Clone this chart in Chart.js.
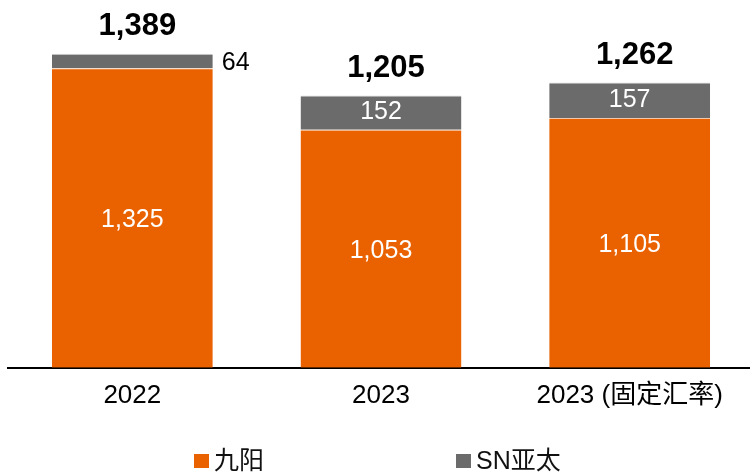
<!DOCTYPE html>
<html><head><meta charset="utf-8">
<script src="https://cdn.jsdelivr.net/npm/chart.js@4.4.1/dist/chart.umd.min.js"></script>
<style>html,body{margin:0;padding:0;background:#fff;overflow:hidden}#wrap{width:750px;height:472px;overflow:hidden}</style>
</head><body><div id="wrap"><canvas id="c" width="756" height="472"></canvas></div>
<script>
const categories = ['2022', '2023', '2023 (固定汇率)'];
const joyoung = [1325, 1053, 1105];
const snAsia = [64, 152, 157];
const seriesNames = ['九阳', 'SN亚太'];
const seriesColors = ['#EA6100', '#6B6B6B'];
const FONT = '"Liberation Sans",Arial,"Noto Sans CJK SC",sans-serif';
const fmt = v => v.toLocaleString('en-US');

const labelPlugin = {
  id: 'labels',
  afterDatasetsDraw(chart) {
    const ctx = chart.ctx;
    const m0 = chart.getDatasetMeta(0), m1 = chart.getDatasetMeta(1);
    ctx.save();
    ctx.textBaseline = 'middle';
    m0.data.forEach((bar, i) => {
      ctx.fillStyle = '#fff';
      ctx.font = '25px ' + FONT;
      ctx.textAlign = 'center';
      ctx.fillText(fmt(joyoung[i]), bar.x, (bar.y + bar.base) / 2 + 2);
    });
    m1.data.forEach((bar, i) => {
      const h = bar.base - bar.y;
      ctx.font = '25px ' + FONT;
      if (h < 25) {
        ctx.fillStyle = '#000';
        ctx.textAlign = 'left';
        ctx.fillText(fmt(snAsia[i]), bar.x + bar.width / 2 + 9, (bar.y + bar.base) / 2 + 2);
      } else {
        ctx.fillStyle = '#fff';
        ctx.textAlign = 'center';
        ctx.fillText(fmt(snAsia[i]), bar.x, (bar.y + bar.base) / 2);
      }
      ctx.fillStyle = '#000';
      ctx.textAlign = 'center';
      ctx.font = 'bold 31px ' + FONT;
      ctx.fillText(fmt(joyoung[i] + snAsia[i]), bar.x + 5, bar.y - 27);
    });
    // legend
    const items = [[194, 454], [456, 454]];
    items.forEach((p, k) => {
      ctx.fillStyle = seriesColors[k];
      ctx.fillRect(p[0], p[1], 15, 14);
      ctx.fillStyle = '#111';
      ctx.textAlign = 'left';
      ctx.font = '25px ' + FONT;
      ctx.fillText(seriesNames[k], p[0] + 20, p[1] + 8);
    });
    ctx.restore();
  }
};

new Chart(document.getElementById('c'), {
  type: 'bar',
  data: {
    labels: categories,
    datasets: [
      { label: seriesNames[0], data: joyoung, backgroundColor: seriesColors[0], borderColor: '#f3c8a8', borderWidth: {top:1,left:0,right:0,bottom:0}, borderSkipped: false },
      { label: seriesNames[1], data: snAsia, backgroundColor: seriesColors[1], borderColor: '#d8d8d8', borderWidth: {top:1,left:0,right:0,bottom:0}, borderSkipped: false }
    ]
  },
  plugins: [labelPlugin],
  options: {
    responsive: false,
    animation: false,
    devicePixelRatio: 1,
    layout: { padding: { left: 8, right: 2, top: 0, bottom: 49 } },
    datasets: { bar: { categoryPercentage: 1.0, barPercentage: 0.647 } },
    scales: {
      x: {
        stacked: true,
        grid: { display: false, drawTicks: false },
        border: { display: true, color: '#000', width: 2 },
        ticks: { color: '#000', font: { size: 26, family: FONT }, padding: 12, maxRotation: 0 }
      },
      y: {
        stacked: true, display: false, min: 0, max: 1627
      }
    },
    plugins: {
      tooltip: { enabled: false },
      legend: { display: false }
    }
  }
});
</script></body></html>
